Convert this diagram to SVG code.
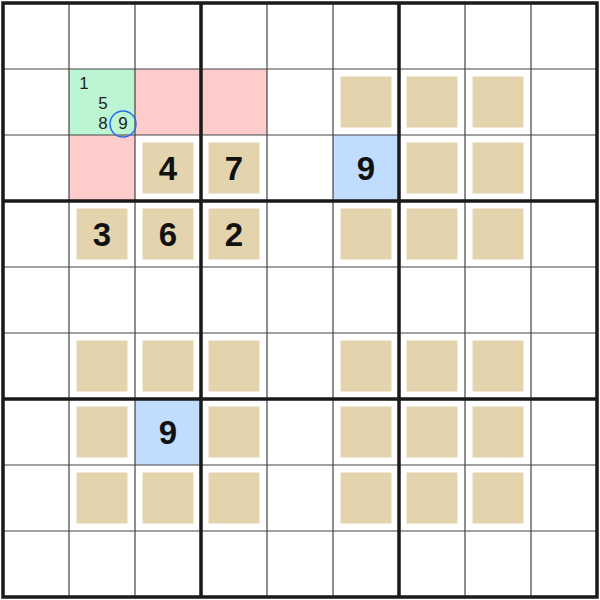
<svg xmlns="http://www.w3.org/2000/svg" width="600" height="600" viewBox="0 0 600 600">
<style>
.tan{fill:#e4d4ae}
.red{fill:#ffcccc}
.grn{fill:#bcf5d2}
.blu{fill:#c0dcff}
.thin{stroke:#444;stroke-width:1.2}
.thick{stroke:#1a1a1a;stroke-width:3.5}
.big{font-family:"Liberation Sans",Arial,sans-serif;font-weight:bold;font-size:33px;fill:#111;text-anchor:middle}
.pm{font-family:"Liberation Sans",Arial,sans-serif;font-size:17px;fill:#222;text-anchor:middle}
</style>
<rect width="600" height="600" fill="#fff"/>
<g id="highlights">
<rect class="grn" x="69" y="69" width="66" height="66"/>
<rect class="red" x="135" y="69" width="66" height="66"/>
<rect class="red" x="201" y="69" width="66" height="66"/>
<rect class="red" x="69" y="135" width="66" height="66"/>
<rect class="blu" x="333" y="135" width="66" height="66"/>
<rect class="blu" x="135" y="399" width="66" height="66"/>
</g>
<g id="tans">
<rect class="tan" x="340.5" y="76.5" width="51" height="51"/>
<rect class="tan" x="406.5" y="76.5" width="51" height="51"/>
<rect class="tan" x="472.5" y="76.5" width="51" height="51"/>
<rect class="tan" x="142.5" y="142.5" width="51" height="51"/>
<rect class="tan" x="208.5" y="142.5" width="51" height="51"/>
<rect class="tan" x="406.5" y="142.5" width="51" height="51"/>
<rect class="tan" x="472.5" y="142.5" width="51" height="51"/>
<rect class="tan" x="76.5" y="208.5" width="51" height="51"/>
<rect class="tan" x="142.5" y="208.5" width="51" height="51"/>
<rect class="tan" x="208.5" y="208.5" width="51" height="51"/>
<rect class="tan" x="340.5" y="208.5" width="51" height="51"/>
<rect class="tan" x="406.5" y="208.5" width="51" height="51"/>
<rect class="tan" x="472.5" y="208.5" width="51" height="51"/>
<rect class="tan" x="76.5" y="340.5" width="51" height="51"/>
<rect class="tan" x="142.5" y="340.5" width="51" height="51"/>
<rect class="tan" x="208.5" y="340.5" width="51" height="51"/>
<rect class="tan" x="340.5" y="340.5" width="51" height="51"/>
<rect class="tan" x="406.5" y="340.5" width="51" height="51"/>
<rect class="tan" x="472.5" y="340.5" width="51" height="51"/>
<rect class="tan" x="76.5" y="406.5" width="51" height="51"/>
<rect class="tan" x="208.5" y="406.5" width="51" height="51"/>
<rect class="tan" x="340.5" y="406.5" width="51" height="51"/>
<rect class="tan" x="406.5" y="406.5" width="51" height="51"/>
<rect class="tan" x="472.5" y="406.5" width="51" height="51"/>
<rect class="tan" x="76.5" y="472.5" width="51" height="51"/>
<rect class="tan" x="142.5" y="472.5" width="51" height="51"/>
<rect class="tan" x="208.5" y="472.5" width="51" height="51"/>
<rect class="tan" x="340.5" y="472.5" width="51" height="51"/>
<rect class="tan" x="406.5" y="472.5" width="51" height="51"/>
<rect class="tan" x="472.5" y="472.5" width="51" height="51"/>
</g>
<g id="grid">
<path class="thin" d="M69 3V597M135 3V597M267 3V597M333 3V597M465 3V597M531 3V597M3 69H597M3 135H597M3 267H597M3 333H597M3 465H597M3 531H597"/>
<path class="thick" d="M201 3V597M399 3V597M3 201H597M3 399H597" />
<rect x="3" y="3" width="594" height="594" fill="none" stroke="#1a1a1a" stroke-width="3.5"/>
</g>
<g id="digits">
<text class="big" x="168" y="180">4</text>
<text class="big" x="234" y="180">7</text>
<text class="big" x="366" y="180">9</text>
<text class="big" x="102" y="246">3</text>
<text class="big" x="168" y="246">6</text>
<text class="big" x="234" y="246">2</text>
<text class="big" x="168" y="444">9</text>
</g>
<g id="pencil">
<text class="pm" x="84" y="89">1</text>
<text class="pm" x="103" y="109">5</text>
<text class="pm" x="103" y="129">8</text>
<text class="pm" x="123" y="129">9</text>
<circle cx="123" cy="124" r="13" fill="none" stroke="#2f6bf0" stroke-width="1.5"/>
</g>
</svg>
